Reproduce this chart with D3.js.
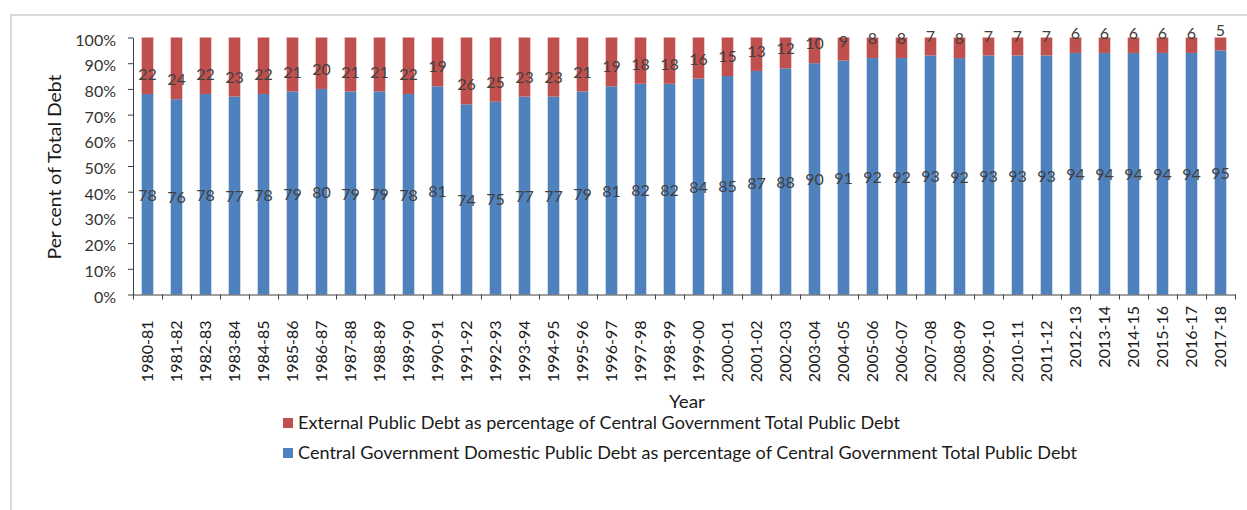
<!DOCTYPE html>
<html>
<head>
<meta charset="utf-8">
<script src="https://cdn.jsdelivr.net/npm/d3@7"></script>
<style>
  html, body { margin: 0; padding: 0; background: #fff; }
  svg { display: block; font-family: Lato, "Open Sans", sans-serif; }
</style>
</head>
<body>
<svg id="chart" width="1247" height="510"></svg>
<script>
// Fiscal years on the category axis
const years = [
  "1980-81","1981-82","1982-83","1983-84","1984-85","1985-86","1986-87","1987-88",
  "1988-89","1989-90","1990-91","1991-92","1992-93","1993-94","1994-95","1995-96",
  "1996-97","1997-98","1998-99","1999-00","2000-01","2001-02","2002-03","2003-04",
  "2004-05","2005-06","2006-07","2007-08","2008-09","2009-10","2010-11","2011-12",
  "2012-13","2013-14","2014-15","2015-16","2016-17","2017-18"
];

// Domestic share of central government total public debt (%)
const domestic = [
  78,76,78,77,78,79,80,79,79,78,81,74,75,77,77,79,81,82,82,84,
  85,87,88,90,91,92,92,93,92,93,93,93,94,94,94,94,94,95
];

// External share of central government total public debt (%)
const external = [
  22,24,22,23,22,21,20,21,21,22,19,26,25,23,23,21,19,18,18,16,
  15,13,12,10,9,8,8,7,8,7,7,7,6,6,6,6,6,5
];

const yTicks = [0,10,20,30,40,50,60,70,80,90,100];

const seriesNames = [
  "External Public Debt as percentage of Central Government Total Public Debt",
  "Central Government Domestic Public Debt as percentage of Central Government Total Public Debt"
];

const BLUE = "#4F81BD", RED = "#C0504D";

const svg = d3.select("#chart");

// outer chart-area frame (left and top edges visible)
svg.append("path")
  .attr("d", "M11,510V15H1247")
  .attr("fill", "none")
  .attr("stroke", "#d9d9d9")
  .attr("stroke-width", 2);

const plot = { left: 133, right: 1235, top: 37.5, bottom: 294.5 };

const x = d3.scaleBand().domain(years).range([plot.left, plot.right]).paddingInner(0.6).paddingOuter(0.3);
const xEdge = d3.scaleLinear().domain([0, years.length]).range([plot.left, plot.right]);
const y = d3.scaleLinear().domain([0, 100]).range([plot.bottom, plot.top]);

const rows = years.map((yr, i) => ({ yr, dom: domestic[i], ext: external[i] }));

// stacked bars
const g = svg.append("g");
g.selectAll("rect.dom").data(rows).join("rect")
  .attr("class", "dom")
  .attr("x", d => x(d.yr))
  .attr("width", x.bandwidth())
  .attr("y", d => y(d.dom))
  .attr("height", d => y(0) - y(d.dom))
  .attr("fill", BLUE);

g.selectAll("rect.ext").data(rows).join("rect")
  .attr("class", "ext")
  .attr("x", d => x(d.yr))
  .attr("width", x.bandwidth())
  .attr("y", d => y(d.dom + d.ext))
  .attr("height", d => y(d.dom) - y(d.dom + d.ext))
  .attr("fill", RED);

// y axis
const yAxis = svg.append("g")
  .attr("transform", `translate(${plot.left},0)`)
  .call(d3.axisLeft(y).tickValues(yTicks).tickSize(5).tickSizeOuter(0).tickPadding(12)
        .tickFormat(d => d + "%"));
yAxis.selectAll("text").attr("font-size", 16).attr("fill", "#333").attr("dy", "0.47em")
  .attr("font-family", "Lato, sans-serif");
yAxis.selectAll("line, path").attr("stroke", "#404040");

// x axis: ticks between categories
const xTickAxis = svg.append("g")
  .attr("transform", `translate(0,${plot.bottom})`)
  .call(d3.axisBottom(xEdge).tickValues(d3.range(0, years.length + 1)).tickSize(5)
        .tickSizeOuter(0).tickFormat(""));
xTickAxis.selectAll("line, path").attr("stroke", "#404040");

// x axis: rotated category labels
const xLabelAxis = svg.append("g")
  .attr("transform", `translate(0,${plot.bottom})`)
  .call(d3.axisBottom(x).tickSize(0));
xLabelAxis.select(".domain").remove();
xLabelAxis.selectAll("text")
  .attr("font-size", 16)
  .attr("font-family", "Lato, sans-serif")
  .attr("fill", "#1a1a1a")
  .attr("transform", "rotate(-90)")
  .attr("text-anchor", "end")
  .attr("y", 0)
  .attr("dy", "0.36em")
  .attr("x", (d, i) => i >= 32 ? -11.5 : -26);

// data labels
const lab = svg.append("g")
  .attr("font-size", 16)
  .attr("fill", "#404040")
  .attr("text-anchor", "middle");

lab.selectAll("text.dom").data(rows).join("text")
  .attr("class", "dom")
  .attr("x", d => x(d.yr) + x.bandwidth() / 2)
  .attr("y", d => y(d.dom / 2) + 1)
  .attr("dy", "0.35em")
  .text(d => d.dom);

lab.selectAll("text.ext").data(rows).join("text")
  .attr("class", "ext")
  .attr("x", d => x(d.yr) + x.bandwidth() / 2)
  .attr("y", d => y(d.dom) - 19.5)
  .attr("dy", "0.35em")
  .text(d => d.ext);

// axis titles
svg.append("text")
  .attr("transform", "translate(61,167) rotate(-90)")
  .attr("text-anchor", "middle")
  .attr("font-size", 17)
  .attr("fill", "#1a1a1a")
  .attr("textLength", 185)
  .attr("lengthAdjust", "spacingAndGlyphs")
  .text("Per cent of Total Debt");

svg.append("text")
  .attr("x", 687)
  .attr("y", 408)
  .attr("text-anchor", "middle")
  .attr("font-size", 17)
  .attr("fill", "#1a1a1a")
  .attr("textLength", 36)
  .attr("lengthAdjust", "spacingAndGlyphs")
  .text("Year");

// legend
const legendWidths = [602, 779];
const legendColors = [RED, BLUE];
const leg = svg.append("g");
seriesNames.forEach((name, i) => {
  const baseY = 429 + i * 30;
  leg.append("rect")
    .attr("x", 283).attr("y", baseY - 11)
    .attr("width", 10).attr("height", 10)
    .attr("fill", legendColors[i]);
  leg.append("text")
    .attr("x", 298).attr("y", baseY)
    .attr("font-size", 17)
    .attr("fill", "#1a1a1a")
    .attr("textLength", legendWidths[i])
    .attr("lengthAdjust", "spacingAndGlyphs")
    .text(name);
});
</script>
</body>
</html>
